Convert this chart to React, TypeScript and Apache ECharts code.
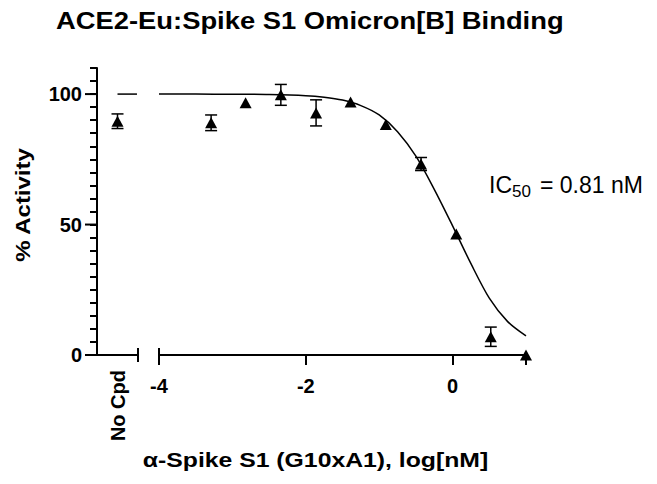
import React, { useEffect, useRef } from "react";
import * as echarts from "echarts";

// ---- data ----
const logConc = [-3.29, -2.82, -2.34, -1.86, -1.39, -0.91, -0.43, 0.05, 0.52, 1.0];
const activity = [89.0, 96.7, 99.7, 92.8, 97.0, 88.3, 73.2, 46.4, 7.0, 0];
const sem = [3.0, 0, 4.0, 5.0, 0, 0, 2.5, 0, 3.7, 0];

const noCpdPos = 1;
const noCpdActivity = 89.6;
const noCpdSem = 2.8;
const noCpdTopLine = [
  [1, 100],
  [1.95, 100],
];

const fitX = [-4, -3.5, -3, -2.5, -2, -1.75, -1.5, -1.25, -1, -0.75, -0.5, -0.25, 0, 0.25, 0.5, 0.75, 1];
const fitY = [100, 99.99, 99.96, 99.83, 99.4, 98.8, 97.7, 95.6, 92.0, 85.6, 76.2, 63.5, 49.5, 35.0, 21.8, 12.8, 7.3];

const yLabelTicks = [0, 50, 100];

const FONT = "'Liberation Sans', Arial, Helvetica, sans-serif";
const BLACK = "#000";

function errorBarRender(params: any, api: any) {
  const x = api.value(0);
  const y = api.value(1);
  const e = api.value(2);
  const top = api.coord([x, y + e]);
  const bot = api.coord([x, y - e]);
  const hw = 6;
  return {
    type: "group",
    children: [
      { type: "line", shape: { x1: top[0], y1: top[1], x2: bot[0], y2: bot[1] }, style: { stroke: BLACK, lineWidth: 1.5 } },
      { type: "line", shape: { x1: top[0] - hw, y1: top[1], x2: top[0] + hw, y2: top[1] }, style: { stroke: BLACK, lineWidth: 1.5 } },
      { type: "line", shape: { x1: bot[0] - hw, y1: bot[1], x2: bot[0] + hw, y2: bot[1] }, style: { stroke: BLACK, lineWidth: 1.5 } },
    ],
  };
}

function triangleRender(params: any, api: any) {
  const p = api.coord([api.value(0), api.value(1)]);
  return {
    type: "polygon",
    z2: 10,
    shape: {
      points: [
        [p[0], p[1] - 5.5],
        [p[0] + 6, p[1] + 5.5],
        [p[0] - 6, p[1] + 5.5],
      ],
    },
    style: { fill: BLACK },
  };
}

function capRender(params: any, api: any) {
  const p = api.coord([api.value(0), 0]);
  return {
    type: "line",
    shape: { x1: p[0], y1: p[1] - 7, x2: p[0], y2: p[1] + 7 },
    style: { stroke: BLACK, lineWidth: 2 },
  };
}

function yMajorTickRender(params: any, api: any) {
  const p = api.coord([0, api.value(1)]);
  return {
    type: "line",
    shape: { x1: p[0] - 12, y1: p[1], x2: p[0], y2: p[1] },
    style: { stroke: BLACK, lineWidth: 2 },
  };
}

function makePolylineRender(pts: number[][], width: number, smooth: number) {
  return (params: any, api: any) => ({
    type: "polyline",
    shape: { points: pts.map((d) => api.coord(d)), smooth },
    style: { stroke: BLACK, lineWidth: width, fill: "none" },
  });
}

function annotationRender() {
  return {
    type: "group",
    children: [
      {
        type: "text",
        x: 56,
        y: 21,
        scaleX: 1.19,
        style: { text: "ACE2-Eu:Spike S1 Omicron[B] Binding", fill: BLACK, font: `bold 23px ${FONT}`, align: "left", verticalAlign: "middle" },
      },
      {
        type: "text",
        x: 23,
        y: 205,
        rotation: Math.PI / 2,
        scaleX: 1.14,
        style: { text: "% Activity", fill: BLACK, font: `bold 21px ${FONT}`, align: "center", verticalAlign: "middle" },
      },
      {
        type: "text",
        x: 315.5,
        y: 460,
        scaleX: 1.18,
        style: { text: "α-Spike S1 (G10xA1), log[nM]", fill: BLACK, font: `bold 21px ${FONT}`, align: "center", verticalAlign: "middle" },
      },
      {
        type: "text",
        x: 489,
        y: 184.5,
        style: { text: "IC", fill: BLACK, font: `23px ${FONT}`, align: "left", verticalAlign: "middle" },
      },
      {
        type: "text",
        x: 512,
        y: 191.5,
        style: { text: "50", fill: BLACK, font: `17px ${FONT}`, align: "left", verticalAlign: "middle" },
      },
      {
        type: "text",
        x: 540,
        y: 184.5,
        style: { text: "= 0.81 nM", fill: BLACK, font: `23px ${FONT}`, align: "left", verticalAlign: "middle" },
      },
    ],
  };
}

export default function App() {
  const ref = useRef<HTMLDivElement>(null);
  useEffect(() => {
    if (!ref.current) return;
    const chart = echarts.init(ref.current, undefined, { renderer: "svg" });
    const errMain: number[][] = [];
    logConc.forEach((x, i) => {
      if (sem[i] > 0) errMain.push([x, activity[i], sem[i]]);
    });
    const fitPts = fitX.map((x, i) => [x, fitY[i]]);
    const g0 = { xAxisIndex: 0, yAxisIndex: 0 };
    const g1 = { xAxisIndex: 1, yAxisIndex: 1 };
    const boldLabel = { color: BLACK, fontFamily: FONT, fontWeight: "bold", fontSize: 20 };
    chart.setOption({
      animation: false,
      grid: [
        { left: 97, width: 41, top: 68, height: 287 },
        { left: 159, width: 367, top: 68, height: 287 },
      ],
      xAxis: [
        {
          gridIndex: 0,
          type: "value",
          min: 0,
          max: 2,
          axisLine: { show: true, onZero: false, lineStyle: { color: BLACK, width: 2 } },
          axisTick: { show: true, length: 1, lineStyle: { color: "rgba(0,0,0,0)", width: 1 } },
          splitLine: { show: false },
          axisLabel: {
            ...boldLabel,
            customValues: [noCpdPos],
            formatter: () => "No Cpd",
            rotate: 90,
            margin: 15,
          },
        },
        {
          gridIndex: 1,
          type: "value",
          min: -4,
          max: 1,
          interval: 2,
          axisLine: { show: true, onZero: false, lineStyle: { color: BLACK, width: 2 } },
          axisTick: { show: true, length: 10, lineStyle: { color: BLACK, width: 2 } },
          splitLine: { show: false },
          axisLabel: {
            ...boldLabel,
            margin: 21,
            formatter: (v: number) => (v > 0.5 ? "" : String(v)),
          },
        },
      ],
      yAxis: [
        {
          gridIndex: 0,
          type: "value",
          min: 0,
          max: 110,
          interval: 5,
          axisLine: { show: true, onZero: false, lineStyle: { color: BLACK, width: 2 } },
          axisTick: { show: true, length: 7, lineStyle: { color: BLACK, width: 2 } },
          splitLine: { show: false },
          axisLabel: { ...boldLabel, customValues: yLabelTicks, margin: 15 },
        },
        { gridIndex: 1, type: "value", min: 0, max: 110, show: false },
      ],
      series: [
        { type: "custom", ...g0, renderItem: yMajorTickRender, data: yLabelTicks.map((v) => [0, v]), encode: { x: 0, y: 1 } },
        { type: "custom", ...g0, renderItem: capRender, data: [[2, 0]], encode: { x: 0, y: 1 } },
        { type: "custom", ...g1, renderItem: capRender, data: [[-4, 0]], encode: { x: 0, y: 1 } },
        {
          type: "custom",
          ...g0,
          renderItem: makePolylineRender(noCpdTopLine, 1.5, 0),
          data: [noCpdTopLine[0]],
          encode: { x: 0, y: 1 },
        },
        {
          type: "custom",
          ...g0,
          renderItem: errorBarRender,
          data: [[noCpdPos, noCpdActivity, noCpdSem]],
          encode: { x: 0, y: 1 },
        },
        {
          type: "custom",
          ...g0,
          renderItem: triangleRender,
          data: [[noCpdPos, noCpdActivity]],
          encode: { x: 0, y: 1 },
        },
        {
          type: "custom",
          ...g1,
          renderItem: makePolylineRender(fitPts, 1.5, 0.3),
          data: [fitPts[0]],
          encode: { x: 0, y: 1 },
        },
        {
          type: "custom",
          ...g1,
          renderItem: errorBarRender,
          data: errMain,
          encode: { x: 0, y: 1 },
        },
        {
          type: "custom",
          ...g1,
          renderItem: triangleRender,
          data: logConc.map((x, i) => [x, activity[i]]),
          encode: { x: 0, y: 1 },
        },
        {
          type: "custom",
          ...g1,
          renderItem: annotationRender,
          data: [[0, 50]],
          encode: { x: 0, y: 1 },
        },
      ],
    });
    return () => chart.dispose();
  }, []);
  return (
    <div
      ref={ref}
      style={{ position: "fixed", left: 0, top: 0, width: 657, height: 484, background: "#fff" }}
    />
  );
}
